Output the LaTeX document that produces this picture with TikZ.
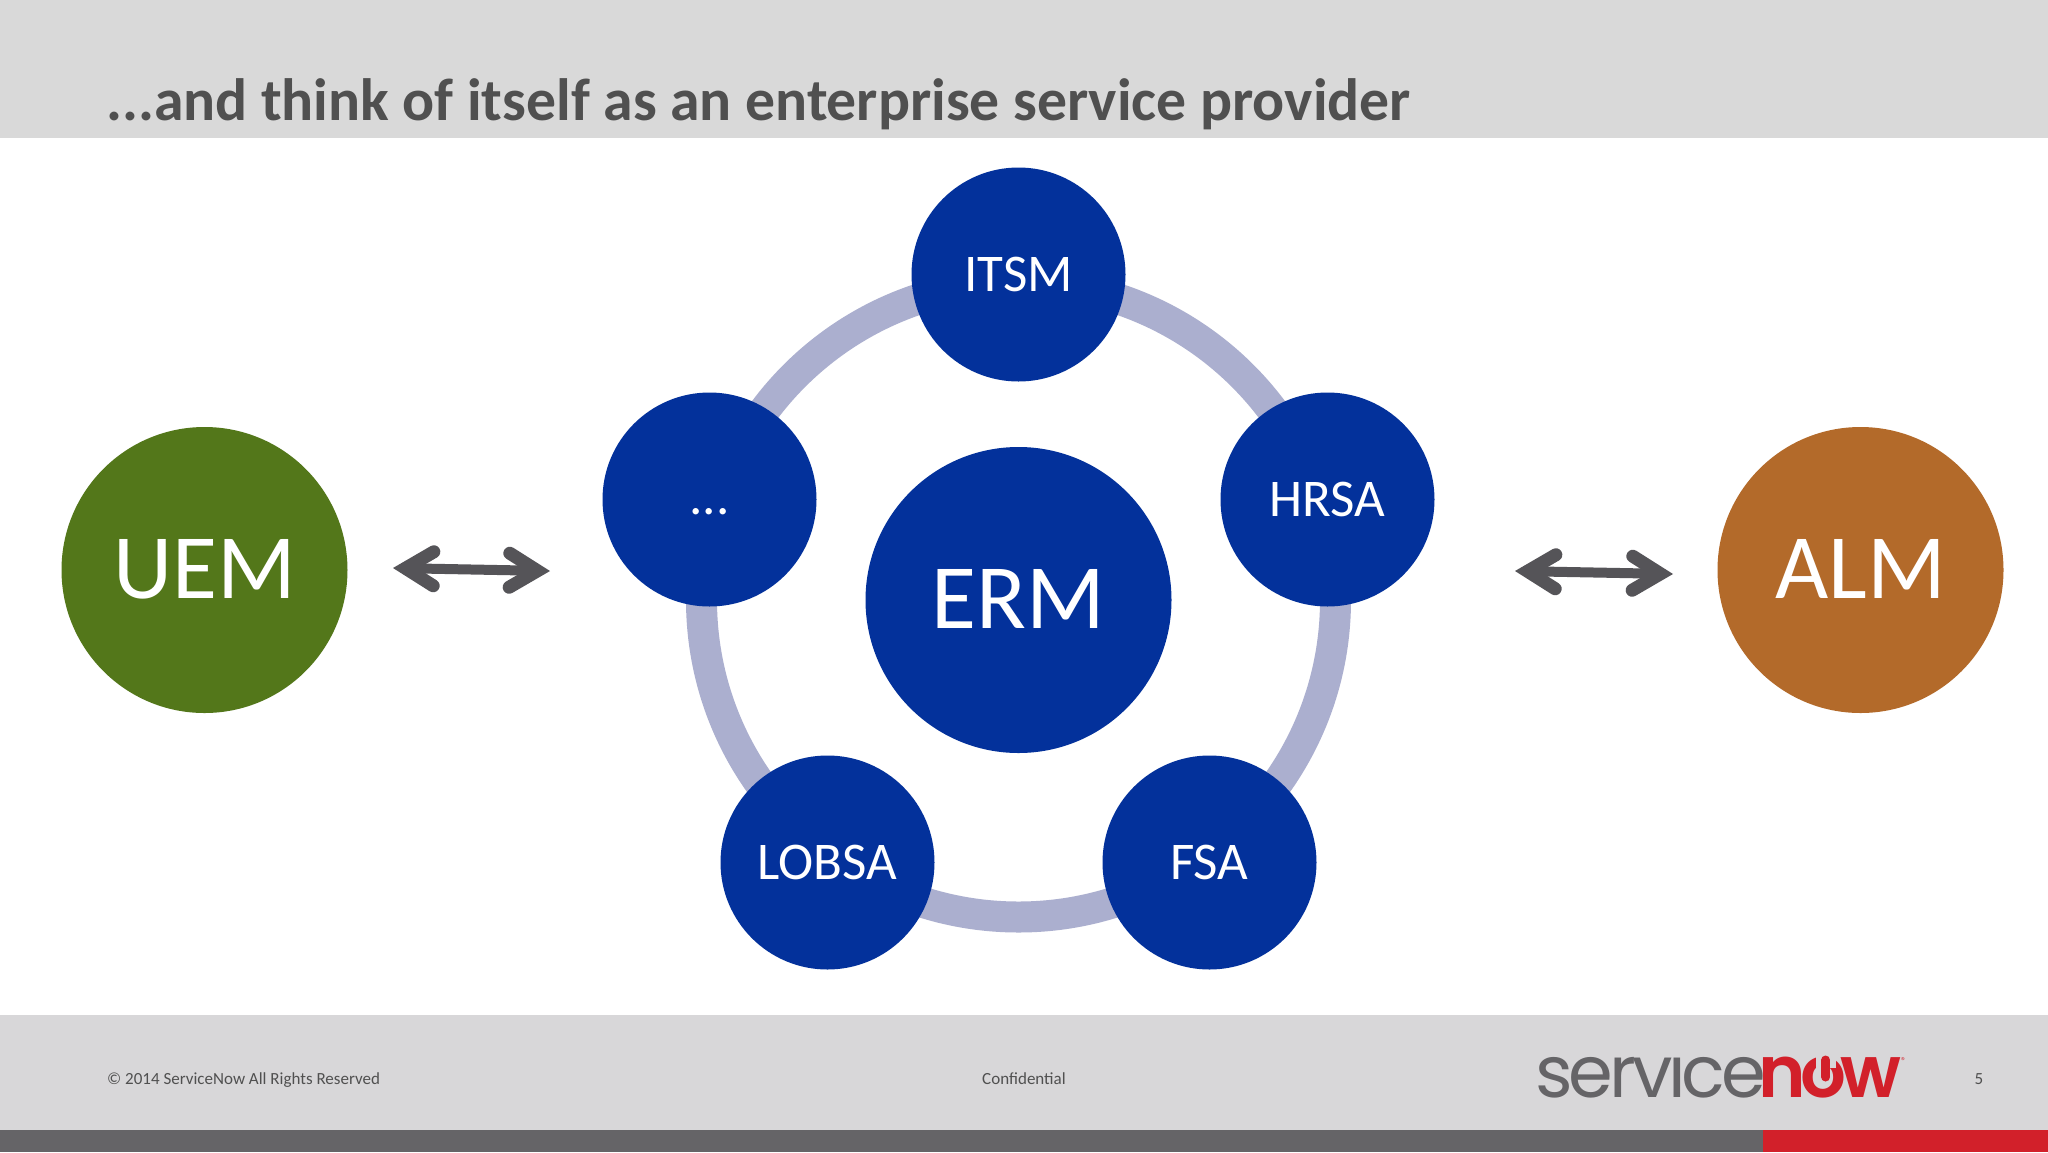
\documentclass[tikz,border=0pt]{standalone}
\usepackage{fontspec}
\setmainfont{Carlito}
\newfontfamily\logofont{Poppins}[LetterSpace=-5.7]
\newfontfamily\logobold{Poppins}[UprightFont=* SemiBold,LetterSpace=-8]
\usetikzlibrary{arrows.meta}
\definecolor{hdr}{HTML}{D9D9D9}
\definecolor{ftr}{HTML}{D8D7D9}
\definecolor{barg}{HTML}{656467}
\definecolor{barr}{HTML}{D2202A}
\definecolor{blu}{HTML}{03319B}
\definecolor{grn}{HTML}{53771A}
\definecolor{brn}{HTML}{B36A2A}
\definecolor{rng}{HTML}{ABAFCF}
\definecolor{ttl}{HTML}{505050}
\definecolor{arw}{HTML}{555458}
\newlength\wserv
\newlength\wservi
\newlength\wn
\newlength\wno
\tikzset{
 small/.style={circle,fill=blu,text=white,minimum size=214pt,inner sep=0pt,font=\fontsize{53}{53}\selectfont},
 big/.style={circle,fill=blu,text=white,minimum size=306pt,inner sep=0pt,font=\fontsize{92}{92}\selectfont},
 side/.style={circle,text=white,minimum size=286pt,inner sep=0pt,font=\fontsize{92}{92}\selectfont},
 link/.style={draw=arw,line width=10pt,{Straight Barb[length=28pt,width=34pt,line cap=round,line width=13pt]}-{Straight Barb[length=28pt,width=34pt,line cap=round,line width=13pt]}},
 foot/.style={text=ttl,inner sep=0pt,font=\fontsize{17}{17}\selectfont},
}
\begin{document}
\settowidth\wserv{\fontsize{72}{72}\logofont serv}%
\settowidth\wservi{\fontsize{72}{72}\logofont servi}%
\settowidth\wn{\fontsize{72}{72}\logobold n}%
\settowidth\wno{\fontsize{72}{72}\logobold no}%
\begin{tikzpicture}[x=1pt,y=-1pt]
\useasboundingbox (0,0) rectangle (2048,1152);
\fill[white] (0,0) rectangle (2048,1152);
\fill[hdr] (0,0) rectangle (2048,138);
\fill[ftr] (0,1015) rectangle (2048,1130);
\fill[barg] (0,1130) rectangle (1763,1152);
\fill[barr] (1763,1130) rectangle (2048,1152);
\node[anchor=base west,inner sep=0pt,text=ttl,font=\fontsize{59.7}{60}\selectfont\bfseries] (title) at (106,120) {...and think of itself as an enterprise service provider};
\coordinate (ringc) at (1018.5,600);
\draw[rng,line width=31pt] (ringc) circle[radius=317];
\node[big] (erm) at (1018.5,600) {\raisebox{3pt}{ERM}};
\node[small] (itsm) at (1018.5,274.5) {ITSM};
\node[small] (hrsa) at (1327.5,499.5) {HRSA};
\node[small] (dots) at (709.5,499.5) {\vphantom{I}\raisebox{2pt}{...}};
\node[small] (lobsa) at (827.5,862.5) {LOBSA};
\node[small] (fsa) at (1209.5,862.5) {FSA};
\node[side,fill=grn] (uem) at (204.5,570) {\raisebox{3pt}{UEM}};
\node[side,fill=brn] (alm) at (1860.5,570) {\raisebox{3pt}{ALM}};
\coordinate (a1) at (393,568);
\coordinate (a2) at (550,571);
\coordinate (b1) at (1515,571);
\coordinate (b2) at (1673,574);
\draw[link] (a1) -- (a2);
\draw[link] (b1) -- (b2);
\node[foot,anchor=base west] (copy) at (107,1084) {© 2014 ServiceNow All Rights Reserved};
\node[foot,anchor=base] (conf) at (1024,1084) {Confidential};
\node[foot,anchor=base] (page) at (1979,1084) {5};
\node[anchor=base west,inner sep=0pt,text=barg,font=\fontsize{72}{72}\logofont] (logoa) at (1535,1097) {service};
\node[anchor=base west,inner sep=0pt,text=barr,font=\fontsize{72}{72}\logobold] (logob) at (1758,1097) {now};
\node[anchor=base west,inner sep=0pt,text=barr,font=\fontsize{10}{10}\selectfont] (reg) at (1901,1064) {®};
\pgfmathsetmacro\ia{1535+\wserv}
\pgfmathsetmacro\ib{1535+\wservi}
\pgfmathsetmacro\oc{1758+(\wn+\wno)/2}
\fill[ftr] (\ia,1030) rectangle (\ib,1054);
\fill[ftr] (\oc-10,1040) rectangle (\oc+10,1068);
\draw[barr,line width=9pt,line cap=round] (\oc,1060) -- (\oc,1077);
\end{tikzpicture}
\end{document}
